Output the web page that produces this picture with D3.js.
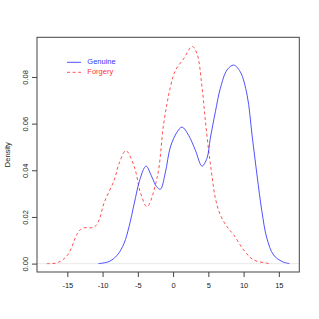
<!DOCTYPE html>
<html><head><meta charset="utf-8">
<script src="https://cdn.jsdelivr.net/npm/d3@7"></script>
<style>body{margin:0;background:#fff}svg{display:block}text{font-family:"Liberation Sans",Arial,sans-serif}</style>
</head><body>
<svg id="c" width="319" height="319"></svg>
<script>
const genuineX = [-10.6,-9.07,-7.9,-6.95,-6.25,-5.5,-4.8,-4.1,-3.8,-3.0,-2.35,-1.8,-1.1,-0.38,0.57,1.27,2.2,3.16,4.1,4.8,5.28,6.0,6.7,7.65,8.58,9.53,10.5,11.2,11.9,12.6,13.3,14.25,15.45,16.5];
const genuineY = [0.0,0.0009,0.0037,0.0087,0.0158,0.0259,0.0351,0.0409,0.0418,0.0371,0.0330,0.0319,0.0390,0.0500,0.0564,0.0585,0.0550,0.0486,0.0418,0.0451,0.0537,0.0651,0.0751,0.0830,0.0851,0.0822,0.0722,0.0551,0.0380,0.0223,0.0109,0.0037,0.0009,0.0];
const forgeryX = [-17.9,-16.4,-14.95,-13.55,-12.85,-11.2,-10.5,-9.8,-8.35,-7.65,-6.7,-5.5,-4.6,-3.7,-2.25,-1.33,-0.38,0.33,1.5,2.7,3.4,4.1,4.57,5.05,5.5,6.0,6.7,7.65,8.6,10.0,11.4,13.3,13.6];
const forgeryY = [0.0,0.0004,0.0037,0.0130,0.0152,0.0156,0.0187,0.0259,0.0358,0.0430,0.0484,0.0415,0.0301,0.0244,0.0371,0.0600,0.0757,0.0828,0.0878,0.0931,0.0899,0.0757,0.0615,0.0483,0.0380,0.0280,0.0209,0.0158,0.0123,0.0059,0.0016,0.0002,0.0];
const xTicks = [-15,-10,-5,0,5,10,15];
const yTicks = [0,0.02,0.04,0.06,0.08];
const seriesNames = ["Genuine","Forgery"];
const seriesColors = ["#3333ff","#ff3333"];

const svg = d3.select("#c");
const L=37, R=299.3, T=37.3, B=272;
const x = d3.scaleLinear().domain([-19.3,17.9]).range([L,R]);
const y = d3.scaleLinear().domain([-0.0036,0.097]).range([B,T]);

// zero line
svg.append("line").attr("x1",L).attr("x2",R).attr("y1",y(0)).attr("y2",y(0))
  .attr("stroke","#ddd").attr("stroke-width",0.6);

const line = d3.line().x(d=>x(d[0])).y(d=>y(d[1])).curve(d3.curveCatmullRom.alpha(0.5));
svg.append("path").datum(forgeryX.map((v,i)=>[v,forgeryY[i]]))
  .attr("d",line).attr("fill","none").attr("stroke",seriesColors[1]).attr("stroke-width",1)
  .attr("stroke-dasharray","3,2.6").attr("opacity",0.85);
svg.append("path").datum(genuineX.map((v,i)=>[v,genuineY[i]]))
  .attr("d",line).attr("fill","none").attr("stroke",seriesColors[0]).attr("stroke-width",1)
  .attr("opacity",0.85);

// box
svg.append("rect").attr("x",L).attr("y",T).attr("width",R-L).attr("height",B-T)
  .attr("fill","none").attr("stroke","#444").attr("stroke-width",1);

// x axis
const xa = svg.append("g").attr("transform",`translate(0,${B})`)
  .call(d3.axisBottom(x).tickValues(xTicks).tickSize(5).tickPadding(6).tickFormat(d3.format("d")));
xa.select(".domain").remove();
xa.selectAll("line").attr("stroke","#444");
xa.selectAll("text").attr("font-size","7.5px").attr("fill","#222")
  .text(d=>String(d).replace("\u2212","-"));

// y axis
const ya = svg.append("g").attr("transform",`translate(${L},0)`)
  .call(d3.axisLeft(y).tickValues(yTicks).tickSize(5).tickFormat(d3.format(".2f")));
ya.select(".domain").remove();
ya.selectAll("line").attr("stroke","#444");
ya.selectAll("text").attr("font-size","7.5px").attr("fill","#222")
  .attr("text-anchor","middle").attr("x",0).attr("dy",null)
  .attr("transform","translate(-11,0) rotate(-90)").attr("dominant-baseline","middle");

svg.append("text").attr("transform",`translate(8,${(T+B)/2}) rotate(-90)`)
  .attr("text-anchor","middle").attr("dominant-baseline","middle")
  .attr("font-size","7.5px").attr("fill","#222").text("Density");

// legend
const leg = svg.append("g");
seriesNames.forEach((n,i)=>{
  const ly = 62.3 + i*10;
  leg.append("line").attr("x1",67).attr("x2",81).attr("y1",ly).attr("y2",ly)
    .attr("stroke",seriesColors[i]).attr("stroke-width",1).attr("opacity",0.85)
    .attr("stroke-dasharray", i===1 ? "3,2.6" : null);
  leg.append("text").attr("x",87.3).attr("y",ly).attr("dominant-baseline","middle")
    .attr("font-size","7.5px").attr("fill",seriesColors[i]).text(n);
});
</script>
</body></html>
